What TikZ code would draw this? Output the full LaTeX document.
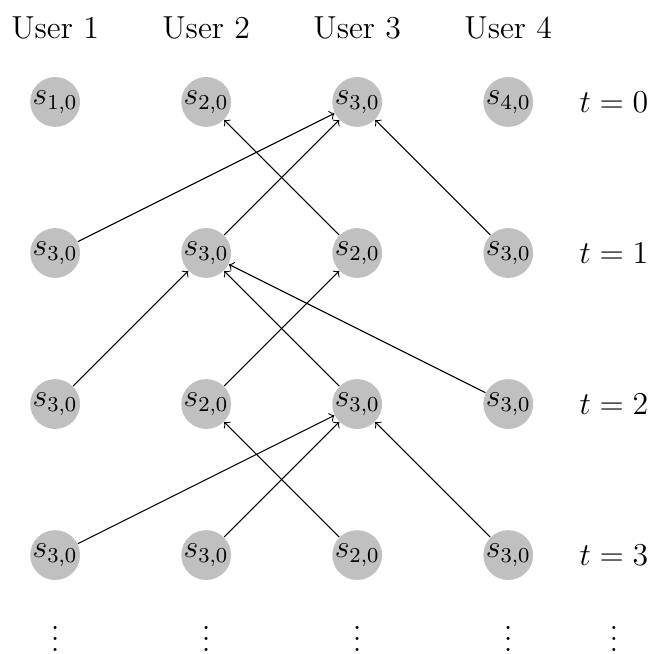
\documentclass[tikz,border=0pt]{standalone}
\usetikzlibrary{arrows}
\usetikzlibrary{positioning}
\definecolor{stategray}{RGB}{192,192,192}

\begin{document}
\begin{tikzpicture}[
		every node/.style={
			font=\fontsize{12}{14}\selectfont
		},
		state/.style={circle,fill=stategray,inner sep=0pt,minimum size=0.66cm},
		link/.style={->,thin,black}
	]

	\def\dx{2}
	\def\dy{2}
	\useasboundingbox (-0.73,1.35) rectangle (7.91,-7.31);

	\foreach \i in {1,...,4}{
		\node (h\i) at ({(\i-1)*\dx},0.98) {User \i};
	}

	% one list of states per time step
	\foreach \row [count=\t from 0] in {{1,2,3,4},{3,3,2,3},{3,2,3,3},{3,3,2,3}}{
		\foreach \s [count=\i] in \row{
			\node[state] (s\i\t) at ({(\i-1)*\dx},{-\t*\dy}) {\makebox[0pt]{$s_{\s,0}$}};
		}
		\node (t\t) at (7.4,{-\t*\dy}) {$t=\t$};
	}

	\foreach \a/\b in {s11/s30,s21/s30,s31/s20,s41/s30,s12/s21,s22/s31,s32/s21,s42/s21,s13/s32,s23/s32,s33/s22,s43/s32}{
		\draw[link] (\a) -- (\b);
	}

	\foreach \x [count=\k] in {0,2,4,6,7.4}{
		\node[anchor=south,inner sep=0pt] (dots\k) at (\x,-7.28) {$\vdots$};
	}

\end{tikzpicture}
\end{document}
